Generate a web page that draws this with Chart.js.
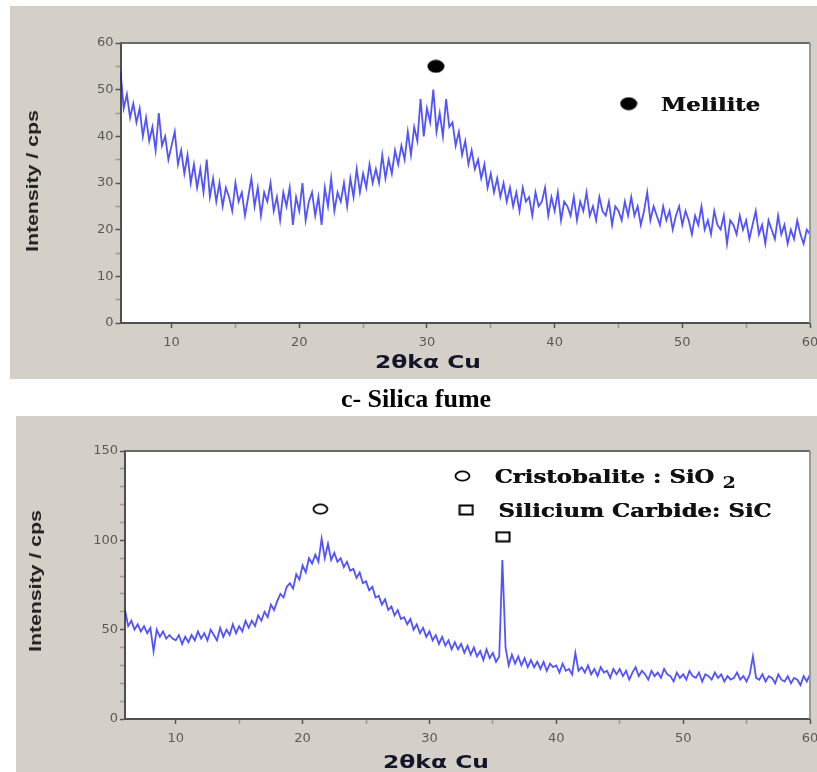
<!DOCTYPE html>
<html>
<head>
<meta charset="utf-8">
<script src="https://cdn.jsdelivr.net/npm/chart.js@4.4.1/dist/chart.umd.min.js"></script>
<style>
  body { margin: 0; width: 817px; height: 772px; position: relative; overflow: hidden; background: #fff; }
  .panel { position: absolute; background: #d4d0c8; }
  .panel canvas { position: absolute; left: 0; top: 0; }
  .ytitle, .xtitle, .caption { position: absolute; white-space: nowrap; line-height: 1; }
  .ytitle { font: bold 17px "Liberation Sans", Arial, sans-serif; color: #1e1e1e; transform: translate(-50%, -50%) rotate(-90deg) scaleX(1.25); }
  .xtitle { font: bold 18px "DejaVu Sans", sans-serif; color: #15152a; transform: translate(-50%, -50%) scaleX(1.3); }
  .caption { font: bold 26px "Liberation Serif", "Times New Roman", serif; color: #000; left: 416px; top: 399px; transform: translate(-50%, -50%); }
</style>
</head>
<body>
<div class="panel" style="left:10px;top:6px;width:807px;height:373px">
  <canvas id="topChart" width="807" height="373"></canvas>
  <div class="ytitle" style="left:23px;top:175px">Intensity / cps</div>
  <div class="xtitle" style="left:418px;top:355px">2θkα Cu</div>
</div>
<div class="caption">c- Silica fume</div>
<div class="panel" style="left:16px;top:416px;width:801px;height:356px">
  <canvas id="bottomChart" width="801" height="356"></canvas>
  <div class="ytitle" style="left:20px;top:165px">Intensity / cps</div>
  <div class="xtitle" style="left:420px;top:345px">2θkα Cu</div>
</div>
<script>
// scan: 2theta from 6 to 60 deg, 0.25 deg step
const scanStart = 6;
const scanStep = 0.25;

// upper pattern (counts, one row per degree)
const topCounts = [
  54,46,49,44, 47,43,46,40, 44,39,42,37, 45,38,40,35, 38,41,34,37,
  32,36,30,34, 29,33,28,35, 27,31,26,30, 25,29,27,24, 30,26,28,23,
  27,31,25,29, 23,28,26,30, 24,27,22,28, 25,29,21,27, 24,30,22,26,
  28,23,27,21, 29,25,31,24, 28,26,30,25, 31,27,33,28, 32,29,34,30,
  33,30,36,31, 35,32,37,34, 38,35,41,36, 42,39,48,40, 46,43,50,41,
  45,40,48,42, 43,38,41,36, 39,34,37,33, 35,31,34,29, 32,28,31,27,
  30,26,29,25, 28,24,29,26, 27,23,28,25, 26,29,23,27, 24,28,22,26,
  25,23,27,22, 26,24,28,23, 25,22,27,24, 23,26,21,25, 24,22,26,23,
  27,23,25,21, 24,28,22,25, 23,21,25,22, 24,20,23,25, 21,24,22,19,
  23,21,25,20, 22,19,24,21, 20,23,17,22, 21,19,23,20, 22,18,21,24,
  19,21,17,22, 20,18,23,19, 21,17,20,18, 22,19,17,20, 19
];

// lower pattern (silica fume)
const bottomCounts = [
  61,52,55,50, 53,49,52,48, 51,38,50,46, 49,45,47,45, 44,47,42,46,
  43,47,44,49, 45,48,44,50, 47,44,51,46, 50,47,53,48, 52,49,55,51,
  55,52,58,55, 60,57,64,61, 66,70,68,74, 76,73,81,78, 86,82,90,87,
  92,88,101,90, 98,89,93,88, 90,85,88,83, 84,79,82,76, 77,72,74,68,
  69,64,67,61, 63,58,61,56, 57,53,56,50, 53,48,51,46, 49,44,47,42,
  46,41,44,39, 43,39,42,37, 41,36,40,35, 38,33,39,34, 37,32,35,89,
  40,30,36,31, 35,30,34,29, 33,29,32,28, 32,27,31,29, 30,26,31,27,
  28,25,37,27, 29,26,30,25, 28,24,29,26, 27,23,28,25, 28,24,27,22,
  26,29,24,27, 25,22,27,24, 26,23,28,25, 24,21,26,23, 25,22,27,24,
  23,26,21,25, 24,22,26,23, 25,21,24,22, 23,26,22,24, 21,25,35,23,
  22,25,21,24, 23,20,25,22, 21,24,20,23, 22,19,24,21, 25
];

// phase marks and key entries
const melilitePeaks = [{ x: 30.7, y: 55 }];
const meliliteKey = [{ x: 45.8, y: 47 }];
const cristobalitePeaks = [{ x: 21.4, y: 117.5 }];
const sicPeaks = [{ x: 35.8, y: 102 }];
const cristobaliteKey = [{ x: 32.6, y: 136 }];
const sicKey = [{ x: 32.9, y: 117 }];

// ticks
const xMajor = [10, 20, 30, 40, 50, 60];
const xMinor = [15, 25, 35, 45, 55];
const topYMajor = [0, 10, 20, 30, 40, 50, 60];
const topYMinor = [5, 15, 25, 35, 45, 55];
const bottomYMajor = [0, 50, 100, 150];
const bottomYMinor = [10, 20, 30, 40, 60, 70, 80, 90, 110, 120, 130, 140];

Chart.defaults.font.family = '"DejaVu Sans", sans-serif';

function pointsOf(values) {
  return values.map((v, i) => ({ x: scanStart + i * scanStep, y: v }));
}

function markCanvas(w, h, draw) {
  const c = document.createElement("canvas");
  c.width = w;
  c.height = h;
  const g = c.getContext("2d");
  g.fillStyle = "#000";
  g.strokeStyle = "#000";
  draw(g, w, h);
  return c;
}
const dotMark = markCanvas(18, 14, (g, w, h) => { g.beginPath(); g.ellipse(w / 2, h / 2, 8.5, 6.5, 0, 0, Math.PI * 2); g.fill(); });
const ringMark = markCanvas(17, 12, (g, w, h) => { g.lineWidth = 1.8; g.beginPath(); g.ellipse(w / 2, h / 2, 7, 4.6, 0, 0, Math.PI * 2); g.stroke(); });
const boxMark = markCanvas(16, 12, (g, w, h) => { g.lineWidth = 2; g.strokeRect(1.5, 1.5, w - 3, h - 3); });

const plotFrame = {
  id: "plotFrame",
  beforeDraw(chart) {
    const { ctx, chartArea: a } = chart;
    ctx.save();
    ctx.fillStyle = "#fff";
    ctx.fillRect(a.left, a.top, a.right - a.left, a.bottom - a.top);
    ctx.restore();
  },
  afterDraw(chart) {
    const { ctx, chartArea: a } = chart;
    ctx.save();
    ctx.lineWidth = 2;
    ctx.strokeStyle = "#6a6a6a";
    ctx.beginPath(); ctx.moveTo(a.left, a.top); ctx.lineTo(a.right, a.top); ctx.stroke();
    ctx.strokeStyle = "#9a9a9a";
    ctx.beginPath(); ctx.moveTo(a.right, a.top); ctx.lineTo(a.right, a.bottom); ctx.stroke();
    ctx.restore();
  }
};

// writes the phase names beside the key markers (wide heavy serif, stretched a bit)
const keyText = {
  id: "keyText",
  afterDatasetsDraw(chart) {
    const ctx = chart.ctx;
    chart.data.datasets.forEach((ds, i) => {
      if (!ds.keyLabel) return;
      const pt = chart.getDatasetMeta(i).data[0];
      ctx.save();
      ctx.translate(pt.x + 32, pt.y + 7);
      ctx.scale(1.2, 1);
      ctx.fillStyle = "#111";
      ctx.font = 'bold 19px "DejaVu Serif", serif';
      ctx.fillText(ds.keyLabel, 0, 0);
      ctx.fillText(ds.keyLabel, 0.4, 0);
      if (ds.keySub) {
        const w = ctx.measureText(ds.keyLabel).width;
        ctx.font = 'bold 16px "DejaVu Serif", serif';
        ctx.fillText(ds.keySub, w + 7, 5);
      }
      ctx.restore();
    });
  }
};

function makeChart(id, counts, markers, yMax, yMajor, yMinor, box) {
  const spectrum = {
    data: pointsOf(counts),
    showLine: true,
    borderColor: "rgba(0,0,255,0.68)",
    borderWidth: 1.8,
    pointRadius: 0,
    tension: 0
  };
  const marks = markers.map(m => Object.assign({ showLine: false, pointRadius: 6 }, m));

  return new Chart(document.getElementById(id), {
    type: "scatter",
    data: { datasets: [spectrum].concat(marks) },
    options: {
      responsive: false,
      animation: false,
      layout: { padding: box.padding },
      plugins: { legend: { display: false }, tooltip: { enabled: false } },
      scales: {
        x: {
          type: "linear",
          min: 6,
          max: 60,
          afterBuildTicks: s => { s.ticks = xMajor.concat(xMinor).sort((a, b) => a - b).map(v => ({ value: v })); },
          afterFit: s => { s.height = box.xHeight; s.paddingLeft = 0; s.paddingRight = 0; },
          ticks: {
            autoSkip: false, maxRotation: 0, padding: 7, color: "#5a5a5a", font: { size: 13 },
            callback: v => xMajor.includes(v) ? v : ""
          },
          grid: {
            drawOnChartArea: false, tickLength: 5, tickWidth: 1.5,
            tickColor: c => xMajor.includes(c.tick.value) ? "#555" : "#999"
          },
          border: { color: "#4f4f4f", width: 2 }
        },
        y: {
          min: 0,
          max: yMax,
          afterBuildTicks: s => { s.ticks = yMajor.concat(yMinor).sort((a, b) => a - b).map(v => ({ value: v })); },
          afterFit: s => { s.width = box.yWidth; s.paddingTop = 0; s.paddingBottom = 0; },
          ticks: {
            autoSkip: false, padding: 2, color: "#5a5a5a", font: { size: 13 },
            callback: v => yMajor.includes(v) ? v : ""
          },
          grid: {
            drawOnChartArea: false, tickLength: 5, tickWidth: 1.5,
            tickColor: c => yMajor.includes(c.tick.value) ? "#555" : "#999"
          },
          border: { color: "#4f4f4f", width: 2 }
        }
      }
    },
    plugins: [plotFrame, keyText]
  });
}

makeChart("topChart", topCounts, [
  { data: melilitePeaks, pointStyle: dotMark },
  { data: meliliteKey, pointStyle: dotMark, keyLabel: "Melilite" }
], 60, topYMajor, topYMinor, {
  padding: { left: 0, top: 37, right: 3, bottom: 0 }, yWidth: 110.5, xHeight: 56
});

makeChart("bottomChart", bottomCounts, [
  { data: cristobalitePeaks, pointStyle: ringMark },
  { data: sicPeaks, pointStyle: boxMark },
  { data: cristobaliteKey, pointStyle: ringMark, keyLabel: "Cristobalite : SiO", keySub: "2" },
  { data: sicKey, pointStyle: boxMark, keyLabel: "Silicium Carbide: SiC" }
], 150, bottomYMajor, bottomYMinor, {
  padding: { left: 0, top: 35, right: 7, bottom: 0 }, yWidth: 109, xHeight: 53
});
</script>
</body>
</html>
